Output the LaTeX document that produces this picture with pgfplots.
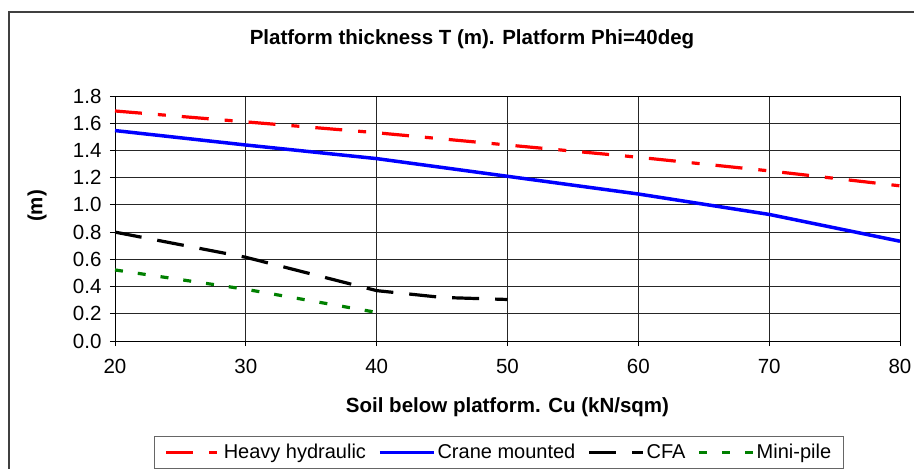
\documentclass[border=0pt]{standalone}
\usepackage{fontspec}
\setmainfont{Liberation Sans}
\usepackage{pgfplots}
\pgfplotsset{compat=1.18}
\begin{document}
\begin{tikzpicture}
\useasboundingbox (0pt,0pt) rectangle (914pt,469pt);
% outer chart frame (runs off the right and bottom edges)
\draw[line width=1.3pt, black!75] (9pt,-40pt) -- (9pt,457pt) -- (940pt,457pt);
\begin{axis}[
  at={(115pt,128pt)}, anchor=south west,
  width=785pt, height=245pt, scale only axis,
  xmin=20, xmax=80, ymin=0, ymax=1.8,
  xtick={20,30,40,50,60,70,80},
  ytick={0,0.2,0.4,0.6,0.8,1.0,1.2,1.4,1.6,1.8},
  yticklabel style={xshift=-5pt, /pgf/number format/fixed,
    /pgf/number format/fixed zerofill, /pgf/number format/precision=1},
  /pgf/number format/assume math mode=true,
  tick label style={font=\fontsize{20.5}{24}\selectfont},
  xticklabel style={yshift=-10pt},
  tick align=outside, major tick length=5pt,
  xtick pos=left, ytick pos=left,
  grid=major,
  major grid style={black!85, line width=0.8pt},
  axis line style={black, line width=0.9pt},
  tick style={black, line width=0.9pt},
  title={Platform thickness T (m). Platform Phi=40deg},
  title style={at={(0.4548,1.185)}, anchor=base, font=\fontsize{20.5}{24}\selectfont\bfseries},
  xlabel={Soil below platform. Cu (kN/sqm)},
  xlabel style={at={(0.5,-0.29)}, anchor=base, font=\fontsize{20.5}{24}\selectfont\bfseries},
  ylabel={(m)},
  ylabel style={at={(-0.0994,0.551)}, anchor=center, font=\fontsize{20.5}{24}\selectfont\bfseries},
  legend columns=-1,
  legend image code/.code={\draw[#1] (0pt,0pt) -- (54pt,0pt);},
  legend style={at={(0.489,-0.388)}, anchor=north, draw=black!60, line width=0.8pt,
    font=\fontsize{20}{24}\selectfont, inner xsep=10pt, inner ysep=6pt,
    /tikz/every even column/.append style={column sep=10pt}},
]
\addplot[red, line width=3.2pt, dash pattern=on 27pt off 16pt on 8pt off 16pt] coordinates {
  (20,1.69) (30,1.61) (40,1.53) (50,1.44) (60,1.35) (70,1.25) (80,1.14)};
\addlegendentry{Heavy hydraulic}
\addplot[blue, line width=3.5pt] coordinates {
  (20,1.546) (30,1.44) (40,1.34) (50,1.21) (60,1.08) (70,0.93) (80,0.733)};
\addlegendentry{Crane mounted}
\addplot[black, line width=3.2pt, dash pattern=on 27pt off 16pt] coordinates {
  (20,0.80) (30,0.615) (40,0.37) (45,0.32) (50,0.305)};
\addlegendentry{CFA}
\addplot[green!50!black, line width=3.2pt, dash pattern=on 8pt off 15pt] coordinates {
  (20,0.522) (30,0.38) (40,0.21)};
\addlegendentry{Mini-pile}
\end{axis}
\end{tikzpicture}
\end{document}
